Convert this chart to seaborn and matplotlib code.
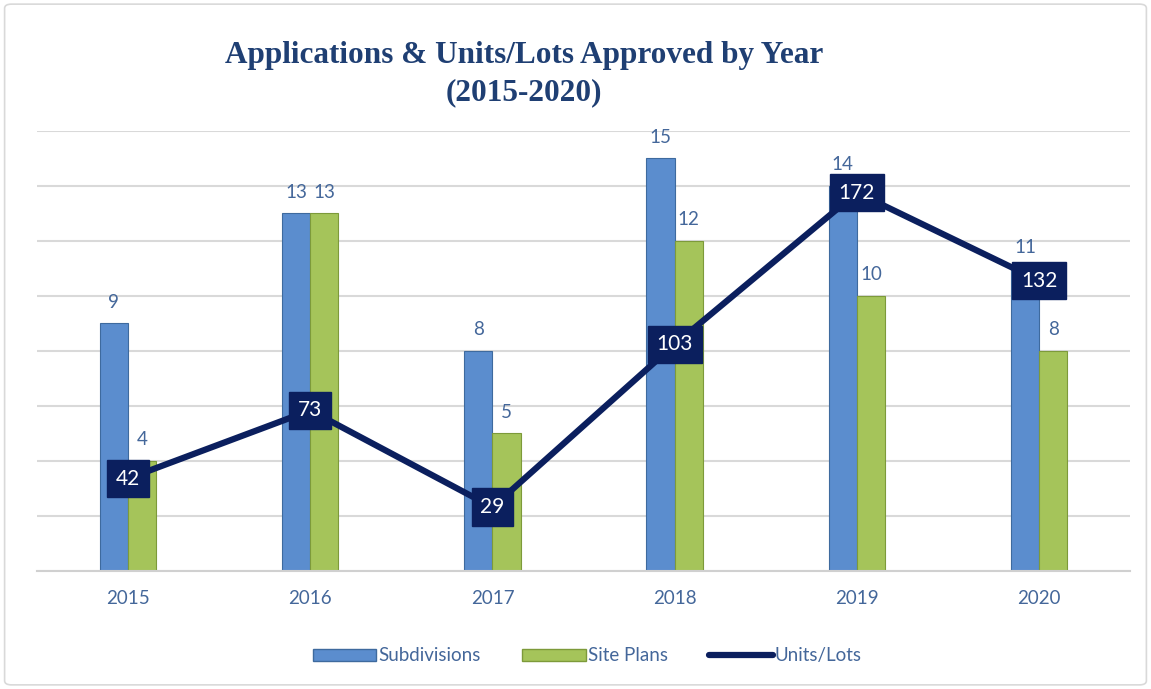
import pandas as pd
import numpy as np
import matplotlib
matplotlib.use("Agg")
import matplotlib.pyplot as plt
import seaborn as sns
from matplotlib.patches import Rectangle, FancyBboxPatch
from matplotlib.lines import Line2D

# chart data
years = ["2015", "2016", "2017", "2018", "2019", "2020"]
subdivisions = [9, 13, 8, 15, 14, 11]
site_plans = [4, 13, 5, 12, 10, 8]
units_lots = [42, 73, 29, 103, 172, 132]

BLUE = "#5B8DCE"
GREEN = "#A5C45A"
NAVY = "#0B1F5E"
TEXT = "#44679A"

sns.set_theme(style="white")
plt.rcParams["font.family"] = ["Lato", "DejaVu Sans"]

df = pd.DataFrame({
    "Year": years * 2,
    "Count": subdivisions + site_plans,
    "Type": ["Subdivisions"] * len(years) + ["Site Plans"] * len(years),
})

fig = plt.figure(figsize=(11.51, 6.89), dpi=100)
ax = fig.add_axes([0.032, 0.1713, 0.95, 0.6386])

sns.barplot(data=df, x="Year", y="Count", hue="Type", order=years,
            hue_order=["Subdivisions", "Site Plans"],
            palette=[BLUE, GREEN], width=0.31, gap=0, saturation=1, ax=ax,
            edgecolor="#3E6A9E", linewidth=0.8, legend=False)

# darker edges for the green bars
for bar in ax.containers[1]:
    bar.set_edgecolor("#7D9A3A")

ax.set_ylim(0, 16)
ax.set_yticks(np.arange(0, 17, 2))
ax.set_yticklabels([])
ax.set_xlim(-0.5, 5.5)
ax.grid(axis="y", color="#D9D9D9", linewidth=1.5)
ax.set_axisbelow(True)
for s in ["top", "right", "left"]:
    ax.spines[s].set_visible(False)
ax.spines["bottom"].set_color("#D0D0D0")
ax.spines["bottom"].set_linewidth(1.5)
ax.set_xlabel("")
ax.set_ylabel("")
ax.tick_params(axis="x", length=0, labelsize=13.5, labelcolor=TEXT, pad=14)
ax.tick_params(axis="y", length=0)

for cont in ax.containers:
    ax.bar_label(cont, padding=9, fontsize=13.5, color=TEXT)

# secondary axis for the line
ax2 = ax.twinx()
sns.lineplot(x=np.arange(len(years)), y=units_lots, color=NAVY,
             linewidth=4.5, ax=ax2, zorder=5)
ax2.set_ylim(0, 200)
ax2.set_xlim(-0.5, 5.5)
ax2.axis("off")
for i, v in enumerate(units_lots):
    ax2.text(i, v, str(v), ha="center", va="center", color="white",
             fontsize=15, zorder=6,
             bbox=dict(boxstyle="square,pad=0.42", fc=NAVY, ec=NAVY))

fig.text(0.455, 0.92, "Applications & Units/Lots Approved by Year",
         ha="center", va="center", fontsize=22.5, fontweight="bold",
         color="#1F3F73", family="Liberation Serif")
fig.text(0.455, 0.865, "(2015-2020)", ha="center", va="center",
         fontsize=22.5, fontweight="bold", color="#1F3F73",
         family="Liberation Serif")

handles = [
    Rectangle((0, 0), 1, 1, fc=BLUE, ec="#3E6A9E"),
    Rectangle((0, 0), 1, 1, fc=GREEN, ec="#7D9A3A"),
    Line2D([0], [0], color=NAVY, linewidth=4.5, solid_capstyle="round"),
]
fig.legend(handles, ["Subdivisions", "Site Plans", "Units/Lots"],
           loc="center", bbox_to_anchor=(0.51, 0.048), ncol=3, frameon=False,
           fontsize=13.5, labelcolor=TEXT, handlelength=3.4, handleheight=0.6,
           handletextpad=0.1, columnspacing=2.2)

fig.patches.append(FancyBboxPatch((0.004, 0.006), 0.992, 0.988,
                                  boxstyle="round,pad=0,rounding_size=0.006",
                                  transform=fig.transFigure, fill=False,
                                  ec="#D9D9D9", lw=1.2))

fig.savefig("out.png", dpi=100)
